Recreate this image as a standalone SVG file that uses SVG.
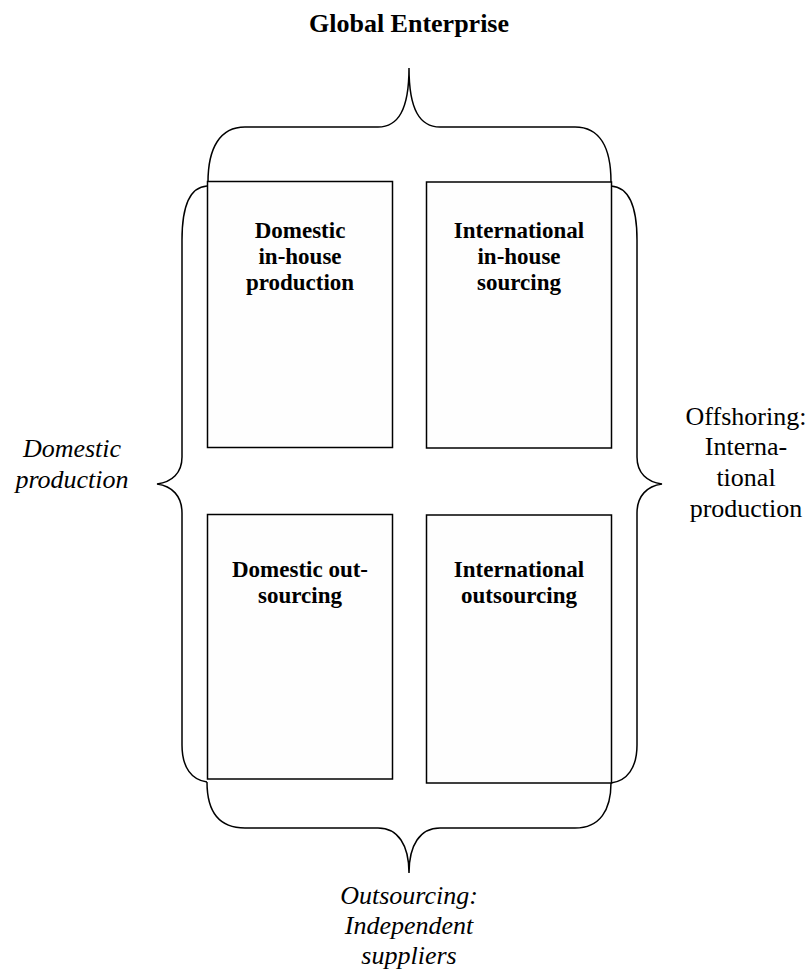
<svg xmlns="http://www.w3.org/2000/svg" width="809" height="969" viewBox="0 0 809 969">
<style>
.box{fill:#fefefe;stroke:#000;stroke-width:1.5}
.br{fill:none;stroke:#000;stroke-width:1.5}
.t{font-family:"Liberation Serif","Times New Roman",serif;fill:#000;text-anchor:middle}
.b{font-weight:bold;font-size:23px}
.title{font-weight:bold;font-size:26px}
.i{font-style:italic;font-size:26px}
.r{font-size:26px}
</style>
<rect width="809" height="969" fill="#fff"/>
<text class="t title" x="409" y="32">Global Enterprise</text>
<g id="connectors">
<path class="br" d="M208,182 C208,148 220,127 245,127 L378,127 C398,127 409,110 409,68 C409,110 420,127 440,127 L575,127 C600,127 611,148 611,182"/>
<path class="br" d="M207,186 C190,187 182,205 182,240 L182,457 C182,473 172,482 157,484 C172,486 182,496 182,513 L182,745 C182,768 192,780 207,782"/>
<path class="br" d="M611,186 C628,187 637,205 637,240 L637,457 C637,473 647,482 662,484 C647,486 637,496 637,513 L637,745 C637,768 627,781 611,783"/>
<path class="br" d="M207,782 C207,810 218,828 245,828 L378,828 C398,828 409,845 409,873 C409,845 420,828 440,828 L575,828 C600,828 611,810 611,783"/>
</g>
<g id="n1">
<rect class="box" x="207.5" y="181.5" width="185" height="266"/>
<text class="t b" x="300" y="238">Domestic</text>
<text class="t b" x="300" y="264">in-house</text>
<text class="t b" x="300" y="290">production</text>
</g>
<g id="n2">
<rect class="box" x="426.5" y="182" width="185" height="266"/>
<text class="t b" x="519" y="238">International</text>
<text class="t b" x="519" y="264">in-house</text>
<text class="t b" x="519" y="290">sourcing</text>
</g>
<g id="n3">
<rect class="box" x="207.5" y="514.5" width="185" height="264.5"/>
<text class="t b" x="300" y="577">Domestic out-</text>
<text class="t b" x="300" y="603">sourcing</text>
</g>
<g id="n4">
<rect class="box" x="426.5" y="515" width="185" height="268"/>
<text class="t b" x="519" y="577">International</text>
<text class="t b" x="519" y="603">outsourcing</text>
</g>
<g id="lbl-left">
<text class="t i" x="72" y="457">Domestic</text>
<text class="t i" x="72" y="488">production</text>
</g>
<g id="lbl-right">
<text class="t r" x="746" y="425">Offshoring:</text>
<text class="t r" x="746" y="455">Interna-</text>
<text class="t r" x="746" y="486">tional</text>
<text class="t r" x="746" y="517">production</text>
</g>
<g id="lbl-bottom">
<text class="t i" x="409" y="904">Outsourcing:</text>
<text class="t i" x="409" y="934">Independent</text>
<text class="t i" x="409" y="964">suppliers</text>
</g>
</svg>
